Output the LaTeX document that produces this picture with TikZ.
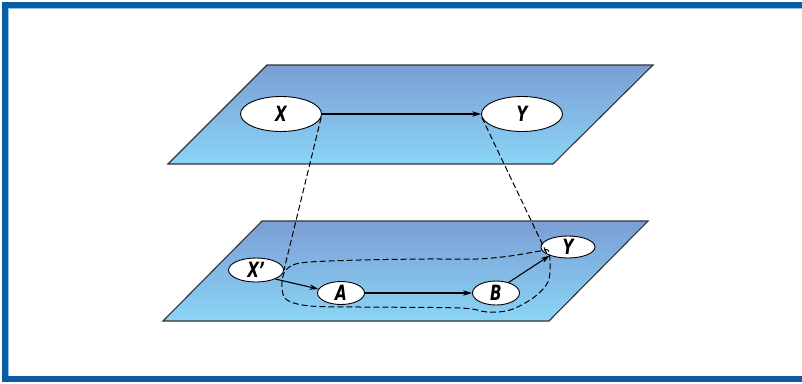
\documentclass[tikz,border=0pt]{standalone}
\usepackage{fontspec}
\setmainfont{Liberation Sans}
\newfontfamily\lblfont{DejaVu Sans Condensed}
\usetikzlibrary{shapes.geometric,arrows.meta}
\definecolor{frameblue}{HTML}{0A5DA5}
\definecolor{framelight}{HTML}{8CC3EA}
\definecolor{planetop}{HTML}{7B9ED5}
\definecolor{planebot}{HTML}{8AD5F6}
\definecolor{edgegray}{HTML}{333333}
\tikzset{
  plane/.style={top color=planetop,bottom color=planebot,draw=edgegray,line width=1.1pt,line join=miter},
  ell/.style={ellipse,draw=black,fill=white,line width=0.9pt,inner sep=0pt,
    font=\lblfont\fontsize{21}{21}\selectfont\bfseries\itshape},
  conn/.style={line width=1.1pt,-{Stealth[length=9pt,width=5.5pt]}},
  proj/.style={line width=1pt,dash pattern=on 6pt off 3pt},
}
\newcommand{\lbl}[1]{\scalebox{0.8}[1]{#1}}
\begin{document}
\begin{tikzpicture}[x=1pt,y=-1pt]
\useasboundingbox (0,0) rectangle (802,383);
\fill[white] (0,0) rectangle (802,383);
% frame
\draw[frameblue,line width=6pt,line join=miter] (830,5) -- (5,5) -- (5,379) -- (830,379);
\draw[framelight,line width=1pt] (8.5,376) -- (8.5,8.5) -- (802,8.5);
% planes
\shade[plane] (267,65) -- (653,65) -- (553,164) -- (168,164) -- cycle;
\shade[plane] (262,221) -- (648,221) -- (549,321) -- (163,321) -- cycle;
% nodes top
\node[ell,minimum width=81pt,minimum height=35pt] (X) at (281,114) {\lbl{X}};
\node[ell,minimum width=81pt,minimum height=35pt] (Y) at (522,114) {\lbl{Y}};
% nodes bottom
\node[ell,minimum width=55pt,minimum height=24pt] (X2) at (256,270) {\lbl{X’}};
\node[ell,minimum width=47pt,minimum height=23pt] (A) at (341,293) {\lbl{A}};
\node[ell,minimum width=47pt,minimum height=24pt] (B) at (496,293) {\lbl{B}};
\node[ell,minimum width=54pt,minimum height=22pt] (Y2) at (568,247) {\lbl{Y}};
% loop
\draw[proj] plot[smooth cycle,tension=0.55] coordinates {
  (284,273) (293,265) (310,262) (360,260) (427,259) (477,259) (510,256) (540,251) (548,250)
  (550,262) (548,282) (533,298) (510,310) (487,312) (460,308) (360,307) (310,306) (287,300) (282,288)};
% projection lines
\draw[proj] (X.-5) -- (X2.east);
\draw[proj] (Y.-175) -- (Y2.200);
% arrows
\draw[conn] (X.east) -- (Y.west);
\draw[conn] (X2.-25) -- (A.170);
\draw[conn] (A.east) -- (B.west);
\draw[conn] (B.40) -- (Y2.205);
\end{tikzpicture}
\end{document}
